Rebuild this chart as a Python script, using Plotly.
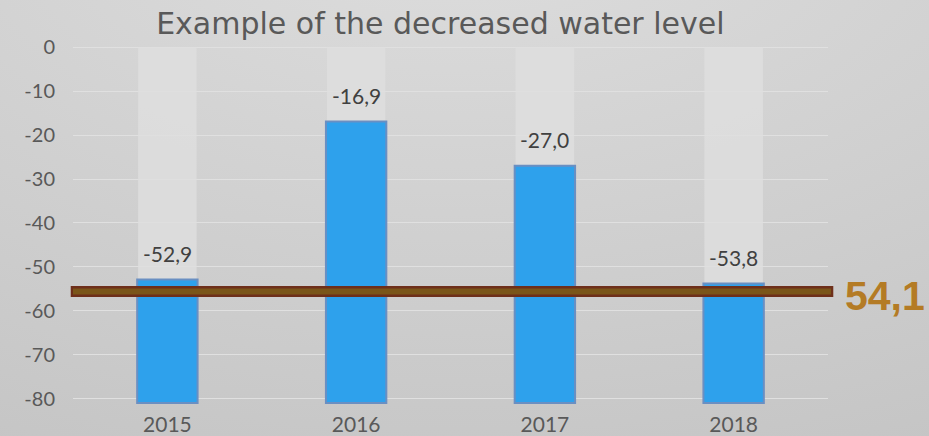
import base64
import plotly.graph_objects as go

years = ["2015", "2016", "2017", "2018"]
values = [-52.9, -16.9, -27.0, -53.8]
base_level = -81
threshold_value = -55.6
threshold_label = "54,1"
y_ticks = [0, -10, -20, -30, -40, -50, -60, -70, -80]
y_ticktext = ["0", "-10", "-20", "-30", "-40", "-50", "-60", "-70", "-80"]

labels = [f"{v:.1f}".replace(".", ",") for v in values]

svg = ('<svg xmlns="http://www.w3.org/2000/svg" width="100" height="100" preserveAspectRatio="none">'
       '<defs><radialGradient id="g" cx="50%" cy="0%" r="110%">'
       '<stop offset="0%" stop-color="#dedede"/><stop offset="100%" stop-color="#c0c0c0"/>'
       '</radialGradient></defs><rect width="100" height="100" fill="url(#g)"/></svg>')
bg_src = "data:image/svg+xml;base64," + base64.b64encode(svg.encode()).decode()

fig = go.Figure()
fig.add_trace(go.Bar(
    x=years, y=[base_level] * len(years), base=0,
    marker=dict(color="rgba(222,222,222,0.85)", line=dict(width=0)),
    width=0.31, hoverinfo="skip", showlegend=False,
))
fig.add_trace(go.Bar(
    x=years, y=[v - base_level for v in values], base=base_level,
    marker=dict(color="#2EA1EC", line=dict(color="#6A8FC2", width=2)),
    width=0.32, showlegend=False,
))
for i, (v, lab) in enumerate(zip(values, labels)):
    fig.add_annotation(x=i, y=v, text=lab, showarrow=False, yanchor="bottom",
                       yshift=12, font=dict(family="Lato", size=21, color="#404040"))

fig.add_shape(type="line", xref="paper", yref="y", x0=-0.003, x1=1.007,
              y0=threshold_value, y1=threshold_value,
              line=dict(color="#6E2F1A", width=11), layer="above")
fig.add_shape(type="line", xref="paper", yref="y", x0=0.0, x1=1.004,
              y0=threshold_value, y1=threshold_value,
              line=dict(color="#7A5519", width=6), layer="above")
fig.add_annotation(xref="paper", yref="y", x=1.0, y=threshold_value - 1.0,
                   xanchor="left", xshift=15, text="<b>" + threshold_label + "</b>",
                   showarrow=False,
                   font=dict(family="Liberation Sans", size=41, color="#B47B25"))

fig.update_layout(
    width=929, height=436,
    margin=dict(l=73, r=101, t=46, b=26),
    paper_bgcolor="#cfcfcf", plot_bgcolor="rgba(0,0,0,0)",
    barmode="overlay",
    title=dict(text="Example of the decreased water level", x=0.474, xanchor="center",
               y=0.945, yanchor="middle",
               font=dict(family="DejaVu Sans", size=30, color="#595959")),
    images=[dict(source=bg_src, xref="paper", yref="paper", x=-0.3, y=1.4,
                 sizex=1.6, sizey=1.8, sizing="stretch", layer="below",
                 xanchor="left", yanchor="top")],
    xaxis=dict(type="category", range=[-0.5, len(years) - 0.5],
               showgrid=False, showline=False, zeroline=False, automargin=False,
               tickfont=dict(family="Lato", size=21, color="#595959"), ticks=""),
    yaxis=dict(range=[-82.6, 0.3], tickvals=y_ticks, ticktext=y_ticktext,
               showline=False, zeroline=False, automargin=False,
               gridcolor="#e0e0e0", gridwidth=1.2, ticks="",
               ticklabelstandoff=17,
               tickfont=dict(family="Lato", size=20, color="#595959")),
)
fig.write_html("out.html", config={"displayModeBar": False},
               post_script="document.body.style.margin='0px';")
